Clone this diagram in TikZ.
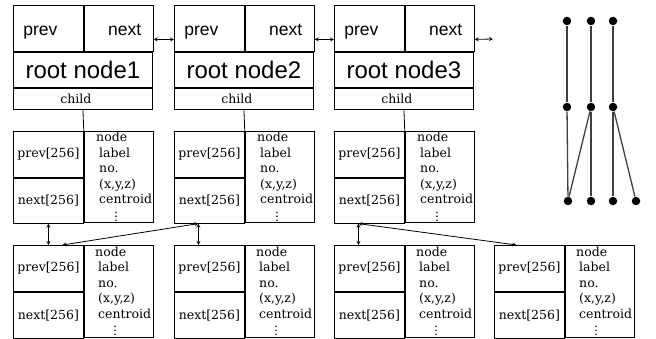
\documentclass[tikz,border=0pt]{standalone}
\usepackage{fontspec}
\setmainfont{DejaVu Serif}
\setsansfont{Liberation Sans}
\usetikzlibrary{arrows}

\begin{document}
\begin{tikzpicture}
 [x=1pt,y=-1pt,>=stealth,line width=0.8pt,
  cell/.style={draw,rectangle,anchor=north west,inner sep=0pt},
  hdr/.style={cell,minimum height=46pt,text height=17pt,text depth=3pt,font=\sffamily\fontsize{17.5}{20}\selectfont},
  small/.style={font=\fontsize{12.5}{15.4}\selectfont},
  list/.style={small,anchor=west,align=left,inner sep=0pt},
  dot/.style={circle,fill=black,inner sep=0pt,minimum size=8.5pt},
  branch/.style={line width=1.3pt,black!75}]
 \useasboundingbox (0,0) rectangle (656,339);
 % root nodes
 \foreach \i/\x in {1/13,2/174,3/334}{
  \node[hdr,minimum width=70pt,text width=50pt,inner xsep=10pt,align=left] (rprev\i) at (\x,5) {prev};
  \node[hdr,minimum width=69pt,text width=45pt,inner xsep=12pt,align=right] (rnext\i) at (rprev\i.north east) {next};
  \node[cell,minimum width=139pt,minimum height=35pt,font=\sffamily\fontsize{24}{27}\selectfont] (rname\i) at (rprev\i.south west) {root node\i};
  \node[cell,small,minimum width=139pt,minimum height=21pt,text width=45pt,inner xsep=47pt,align=left] (rchild\i) at (rname\i.south west) {child};
 }
 % child level
 \foreach \i/\x in {1/13,2/174,3/334}{
  \node[cell,small,minimum width=70pt,minimum height=46pt] (cprev\i) at (\x,131) {prev[256]};
  \node[cell,small,minimum width=70pt,minimum height=45pt] (cnext\i) at (cprev\i.south west) {next[256]};
  \node[cell,minimum width=69pt,minimum height=91pt] (cinfo\i) at (cprev\i.north east) {};
  \node[list] (clist\i) at ([xshift=15pt]cinfo\i.west) {\hspace*{-3pt}node\\label\\no.\\(x,y,z)\\centroid\\[1pt]\hspace*{15pt}$\vdots$};
  \draw (rchild\i.south) -- (cprev\i.north east);
 }
 % bottom level
 \foreach \i/\x in {1/13,2/174,3/334,4/494}{
  \node[cell,small,minimum width=70pt,minimum height=46pt] (bprev\i) at (\x,245) {prev[256]};
  \node[cell,small,minimum width=70pt,minimum height=46pt] (bnext\i) at (bprev\i.south west) {next[256]};
  \node[cell,minimum width=69pt,minimum height=92pt] (binfo\i) at (bprev\i.north east) {};
  \node[list] (blist\i) at ([xshift=14pt]binfo\i.west) {\hspace*{-3pt}node\\label\\no.\\(x,y,z)\\centroid\\[1pt]\hspace*{15pt}$\vdots$};
 }
 % links
 \coordinate (tail) at (493,39);
 \draw[<->] ([yshift=-11pt]rnext1.east) -- ([yshift=-11pt]rprev2.west);
 \draw[<->] ([yshift=-11pt]rnext2.east) -- ([yshift=-11pt]rprev3.west);
 \draw[<->] ([yshift=-11pt]rnext3.east) -- (tail);
 \draw[<->] (cnext1.south) -- (bprev1.north);
 \draw[<->] ([xshift=-11pt]cnext2.south) -- ([xshift=-11pt]bprev2.north);
 \draw[<->] ([xshift=-11pt]cnext2.south) -- ([xshift=14pt]bprev1.north);
 \draw[<->] ([xshift=-11pt]cnext3.south) -- ([xshift=-11pt]bprev3.north);
 \draw[<->] ([xshift=-11pt]cnext3.south) -- ([xshift=-13pt]bprev4.north);
 % tree
 \foreach \name/\x/\y in {t1/567/21,t2/591/21,t3/613/21,m1/567/107,m2/591/107,m3/613/107,l1/568/201,l2/591/201,l3/613/201,l4/636/201}
  \node[dot] (\name) at (\x,\y) {};
 \foreach \from/\to in {t1/m1,t2/m2,t3/m3,m1/l1,m2/l1,m2/l2,m3/l3,m3/l4}
  \draw[branch] (\from) -- (\to);
\end{tikzpicture}
\end{document}
